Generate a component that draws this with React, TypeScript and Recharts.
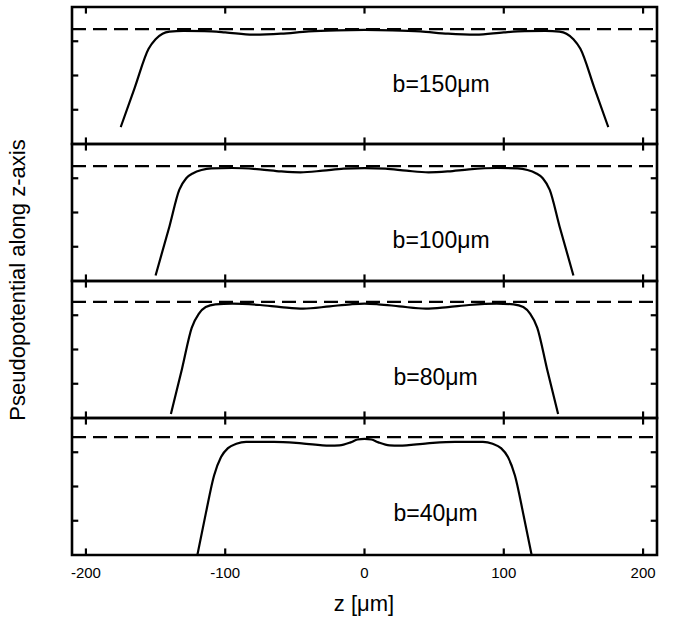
import React from 'react';
import {
  LineChart,
  Line,
  XAxis,
  YAxis,
  ReferenceLine,
  ReferenceArea,
  ReferenceDot,
} from 'recharts';

const FONT = '"Liberation Sans", Arial, sans-serif';

// z positions and pseudopotential (normalised per panel)
const z150 = [-175, -165, -155, -150, -145, -140, -130, -115, -100, -80, -60, -40, -20, 0, 20, 40, 60, 80, 100, 115, 130, 140, 145, 150, 155, 165, 175];
const v150 = [0.124, 0.41, 0.695, 0.765, 0.805, 0.82, 0.826, 0.824, 0.815, 0.798, 0.805, 0.822, 0.83, 0.833, 0.83, 0.822, 0.805, 0.798, 0.815, 0.824, 0.826, 0.82, 0.805, 0.765, 0.695, 0.41, 0.124];

const z100 = [-150, -140, -133, -128, -123, -117, -110, -95, -75, -60, -46, -30, -15, 0, 15, 30, 46, 60, 75, 95, 110, 117, 123, 128, 133, 140, 150];
const v100 = [0.04, 0.4, 0.665, 0.75, 0.787, 0.81, 0.822, 0.825, 0.815, 0.8, 0.793, 0.805, 0.82, 0.824, 0.82, 0.805, 0.793, 0.8, 0.815, 0.825, 0.822, 0.81, 0.787, 0.75, 0.665, 0.4, 0.04];

const z80 = [-139, -131, -124, -119, -114, -107, -95, -75, -60, -44, -25, -10, 0, 10, 25, 44, 60, 75, 95, 107, 114, 119, 124, 131, 139];
const v80 = [0.03, 0.36, 0.66, 0.76, 0.81, 0.83, 0.835, 0.825, 0.81, 0.798, 0.815, 0.83, 0.835, 0.83, 0.815, 0.798, 0.81, 0.825, 0.835, 0.83, 0.81, 0.76, 0.66, 0.36, 0.03];

const z40 = [-120, -114, -108, -103, -98, -92, -85, -65, -45, -25, -18, -10, -5, 0, 5, 10, 18, 25, 45, 65, 85, 92, 98, 103, 108, 114, 120];
const v40 = [0, 0.3, 0.58, 0.715, 0.78, 0.812, 0.826, 0.826, 0.815, 0.798, 0.8, 0.822, 0.843, 0.848, 0.843, 0.822, 0.8, 0.798, 0.815, 0.826, 0.826, 0.812, 0.78, 0.715, 0.58, 0.3, 0];

const xTicks = [-200, -100, 0, 100, 200];
const yTicks = [0.25, 0.5, 0.75];

const panels = [
  { label: 'b=150\u03bcm', z: z150, v: v150, dash: 0.839, labelZ: 55, labelY: 0.44 },
  { label: 'b=100\u03bcm', z: z100, v: v100, dash: 0.839, labelZ: 55, labelY: 0.3 },
  { label: 'b=80\u03bcm', z: z80, v: v80, dash: 0.847, labelZ: 51, labelY: 0.3 },
  { label: 'b=40\u03bcm', z: z40, v: v40, dash: 0.861, labelZ: 51, labelY: 0.31 },
];

const panelTops = [7, 144, 281, 418];
const PLOT_H = 137;

function Panel({ idx }: { idx: number }) {
  const p = panels[idx];
  const data = p.z.map((z, i) => ({ z, v: p.v[i] }));
  const last = idx === panels.length - 1;
  const height = PLOT_H + 2 + (last ? 30 : 2);
  return (
    <div style={{ position: 'absolute', left: 0, top: panelTops[idx] - 2 }}>
      <LineChart
        width={681}
        height={height}
        data={data}
        margin={{ top: 2, right: 24, bottom: last ? 0 : 2, left: 72 }}
      >
        <XAxis
          type="number"
          dataKey="z"
          domain={[-210, 210]}
          ticks={xTicks}
          hide={!last}
          height={30}
          tickLine={false}
          axisLine={false}
          tickSize={0}
          tickMargin={12}
          tick={{ fontSize: 15, fill: '#000', fontFamily: FONT }}
          allowDataOverflow
        />
        <YAxis type="number" domain={[0, 1]} hide allowDataOverflow />
        <ReferenceArea x1={-210} x2={210} y1={0} y2={1} fill="none" stroke="#000" strokeWidth={2.6} fillOpacity={0} />
        {xTicks.map((t) => (
          <ReferenceLine key={'tt' + t} segment={[{ x: t, y: 1 }, { x: t, y: 0.952 }]} stroke="#000" strokeWidth={2.2} />
        ))}
        {xTicks.map((t) => (
          <ReferenceLine key={'bt' + t} segment={[{ x: t, y: 0 }, { x: t, y: 0.048 }]} stroke="#000" strokeWidth={2.2} />
        ))}
        {yTicks.map((t) => (
          <ReferenceLine key={'lt' + t} segment={[{ x: -210, y: t }, { x: -205.5, y: t }]} stroke="#000" strokeWidth={2.2} />
        ))}
        {yTicks.map((t) => (
          <ReferenceLine key={'rt' + t} segment={[{ x: 210, y: t }, { x: 205.5, y: t }]} stroke="#000" strokeWidth={2.2} />
        ))}
        <ReferenceLine y={p.dash} stroke="#000" strokeWidth={2.2} strokeDasharray="14 7" />
        <Line
          type="monotone"
          dataKey="v"
          stroke="#000"
          strokeWidth={2.2}
          dot={false}
          isAnimationActive={false}
        />
        <ReferenceDot
          x={p.labelZ}
          y={p.labelY}
          r={1}
          fillOpacity={0}
          stroke="none"
          label={{ value: p.label, position: 'center', fontSize: 23, fill: '#000', fontFamily: FONT }}
        />
      </LineChart>
    </div>
  );
}

export default function App() {
  return (
    <div style={{ position: 'absolute', left: 0, top: 0, width: 681, height: 627, background: '#fff', fontFamily: FONT }}>
      {panels.map((_, i) => (
        <Panel key={i} idx={i} />
      ))}
      <div
        style={{
          position: 'absolute',
          left: 18,
          top: 280,
          transform: 'translate(-50%, -50%) rotate(-90deg)',
          whiteSpace: 'nowrap',
          fontSize: 22,
          color: '#000',
        }}
      >
        Pseudopotential along z-axis
      </div>
      <div
        style={{
          position: 'absolute',
          left: 364,
          top: 604,
          transform: 'translate(-50%, -50%)',
          whiteSpace: 'nowrap',
          fontSize: 22,
          color: '#000',
        }}
      >
        z [{'\u03bc'}m]
      </div>
    </div>
  );
}
